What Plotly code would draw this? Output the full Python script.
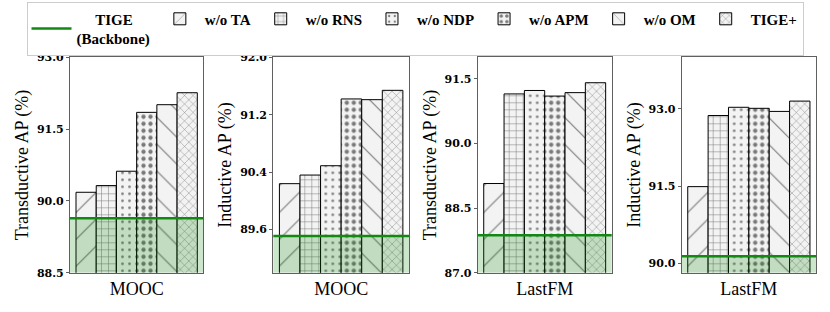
import plotly.graph_objects as go

# ---------------- data ----------------
variants = ["w/o TA", "w/o RNS", "w/o NDP", "w/o APM", "w/o OM", "TIGE+"]
datasets = ["MOOC", "MOOC", "LastFM", "LastFM"]
y_titles = ["Transductive AP (%)", "Inductive AP (%)", "Transductive AP (%)", "Inductive AP (%)"]

mooc_trans = [90.18, 90.32, 90.62, 91.85, 92.01, 92.26]
mooc_ind = [90.24, 90.36, 90.49, 91.42, 91.41, 91.54]
lastfm_trans = [89.07, 91.15, 91.23, 91.10, 91.18, 91.41]
lastfm_ind = [91.49, 92.87, 93.03, 93.01, 92.95, 93.15]
panel_values = [mooc_trans, mooc_ind, lastfm_trans, lastfm_ind]

backbone = [89.64, 89.51, 87.87, 90.14]  # TIGE (Backbone)

y_ranges = [[88.5, 93.0], [89.0, 92.0], [87.0, 92.0], [89.82, 94.0]]
y_ticks = [[88.5, 90.0, 91.5, 93.0], [89.6, 90.4, 91.2, 92.0],
           [87.0, 88.5, 90.0, 91.5], [90.0, 91.5, 93.0]]

# ---------------- style ----------------
patterns = [
    dict(shape="/", size=19, solidity=0.06),
    dict(shape="+", size=7, solidity=0.14),
    dict(shape=".", size=7, solidity=0.12),
    dict(shape=".", size=7, solidity=0.3),
    dict(shape="\\", size=19, solidity=0.06),
    dict(shape="x", size=6, solidity=0.14),
]
W, H = 830, 312
x_dom_px = [(70, 203.3), (273.3, 409), (477.7, 611.7), (681.7, 816)]
y_dom = [1 - 272.7 / H, 1 - 57.3 / H]
serif = "Liberation Serif"
green = "#128a12"

fig = go.Figure()

# legend entry for backbone line
fig.add_trace(go.Scatter(x=[None], y=[None], mode="lines",
                         line=dict(color=green, width=2.5),
                         name="&nbsp;&nbsp;&nbsp;&nbsp;&nbsp;TIGE<br>(Backbone)", showlegend=True,
                         xaxis="x", yaxis="y"))

for p in range(4):
    xa = "x" if p == 0 else f"x{p+1}"
    ya = "y" if p == 0 else f"y{p+1}"
    for i, v in enumerate(variants):
        fig.add_trace(go.Bar(
            x=[datasets[p]], y=[panel_values[p][i]], name=v,
            marker=dict(color="#f3f3f3", line=dict(color="black", width=1),
                        pattern=dict(fgcolor="black", fillmode="overlay", **patterns[i])),
            showlegend=(p == 0), legendgroup=v,
            xaxis=xa, yaxis=ya))
    # shaded region below backbone
    fig.add_shape(type="rect", xref=f"{xa} domain", yref=ya,
                  x0=0, x1=1, y0=y_ranges[p][0], y1=backbone[p],
                  fillcolor="green", opacity=0.2, line_width=0, layer="above")
    fig.add_shape(type="line", xref=f"{xa} domain", yref=ya,
                  x0=0, x1=1, y0=backbone[p], y1=backbone[p],
                  line=dict(color=green, width=2.5), layer="above")

layout = dict(
    width=W, height=H, margin=dict(l=0, r=0, t=0, b=0, autoexpand=False),
    plot_bgcolor="white", paper_bgcolor="white",
    barmode="group", bargap=0.09, bargroupgap=0,
    showlegend=True,
    legend=dict(orientation="h", x=0.5, xanchor="center", y=0.995, yanchor="top",
                yref="container", xref="container",
                font=dict(family=serif, size=15, color="black", weight="bold"),
                bordercolor="#cccccc", borderwidth=1, bgcolor="white",
                itemwidth=40, tracegroupgap=0),
)
for p in range(4):
    suffix = "" if p == 0 else str(p + 1)
    x0, x1 = x_dom_px[p]
    layout["xaxis" + suffix] = dict(
        domain=[x0 / W, x1 / W], anchor="y" + suffix, type="category",
        showline=True, linecolor="#606060", linewidth=1.2, mirror=True,
        ticks="", tickfont=dict(family=serif, size=18, color="black"),
        automargin=False, fixedrange=True)
    layout["yaxis" + suffix] = dict(
        domain=y_dom, anchor="x" + suffix, range=y_ranges[p],
        tickvals=y_ticks[p], tickformat=".1f",
        showline=True, linecolor="#606060", linewidth=1.2, mirror=True,
        showgrid=False, zeroline=False, ticks="outside", ticklen=3, tickcolor="#606060",
        tickfont=dict(family="DejaVu Serif", size=11, color="black", weight="bold"),
        title=dict(text=y_titles[p], font=dict(family=serif, size=18, color="black"),
                   standoff=3),
        automargin=False, fixedrange=True)

fig.update_layout(**layout)
fig.write_html("out.html", config={"displayModeBar": False},
               post_script="document.body.style.margin='0';")
